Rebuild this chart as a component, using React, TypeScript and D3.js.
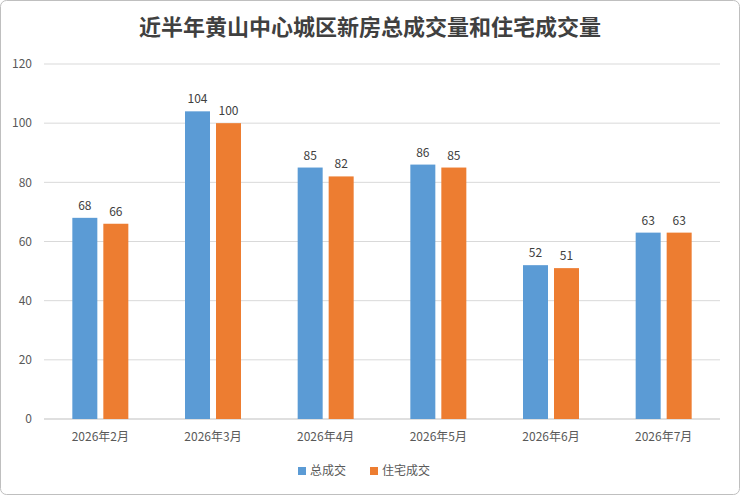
import { useEffect, useRef } from 'react';
import * as d3 from 'd3';

const categories = ['2026年2月', '2026年3月', '2026年4月', '2026年5月', '2026年6月', '2026年7月'];
const totalDeals = [68, 104, 85, 86, 52, 63];
const residentialDeals = [66, 100, 82, 85, 51, 63];
const seriesNames = ['总成交', '住宅成交'];
const colors = ['#5b9bd5', '#ed7d31'];
const yTicks = [0, 20, 40, 60, 80, 100, 120];

const W = 740;
const H = 495;

const App = () => {
  const ref = useRef<SVGSVGElement | null>(null);

  useEffect(() => {
    if (!ref.current) return;
    const svg = d3.select(ref.current);
    svg.selectAll('*').remove();
    const font = '"Noto Sans CJK SC", "Noto Sans", sans-serif';

    const margin = { top: 64, right: 20, bottom: 76, left: 44 };
    const innerW = W - margin.left - margin.right;
    const innerH = H - margin.top - margin.bottom;

    svg.append('rect')
      .attr('x', 0.5).attr('y', 0.5).attr('width', W - 1).attr('height', H - 1)
      .attr('rx', 6).attr('fill', '#fff').attr('stroke', '#bfbfbf');

    svg.append('text')
      .attr('x', W / 2).attr('y', 35)
      .attr('text-anchor', 'middle')
      .style('font-family', font).style('font-size', '22px').style('font-weight', 'bold')
      .attr('fill', '#404040')
      .text('近半年黄山中心城区新房总成交量和住宅成交量');

    const x = d3.scaleBand().domain(categories).range([0, innerW]);
    const y = d3.scaleLinear().domain([0, 120]).range([innerH, 0]);

    const g = svg.append('g').attr('transform', `translate(${margin.left},${margin.top})`);

    g.selectAll('line.grid').data(yTicks).enter().append('line')
      .attr('x1', 0).attr('x2', innerW)
      .attr('y1', d => y(d)).attr('y2', d => y(d))
      .attr('stroke', d => (d === 0 ? '#bfbfbf' : '#d9d9d9'));

    g.selectAll('text.ytick').data(yTicks).enter().append('text')
      .attr('x', -12).attr('y', d => y(d)).attr('dy', '0.35em')
      .attr('text-anchor', 'end')
      .style('font-family', font).style('font-size', '12px').attr('fill', '#595959')
      .text(d => d);

    const barW = 25;
    const gap = 6;
    [totalDeals, residentialDeals].forEach((vals, si) => {
      categories.forEach((c, i) => {
        const cx = (x(c) as number) + x.bandwidth() / 2;
        const bx = si === 0 ? cx - gap / 2 - barW : cx + gap / 2;
        g.append('rect')
          .attr('x', bx).attr('y', y(vals[i]))
          .attr('width', barW).attr('height', innerH - y(vals[i]))
          .attr('fill', colors[si]);
        g.append('text')
          .attr('x', bx + barW / 2).attr('y', y(vals[i]) - 8)
          .attr('text-anchor', 'middle')
          .style('font-family', font).style('font-size', '12px').attr('fill', '#404040')
          .text(vals[i]);
      });
    });

    g.selectAll('text.xtick').data(categories).enter().append('text')
      .attr('x', d => (x(d) as number) + x.bandwidth() / 2).attr('y', innerH + 22)
      .attr('text-anchor', 'middle')
      .style('font-family', font).style('font-size', '12px').attr('fill', '#595959')
      .text(d => d);

    const legend = svg.append('g').attr('transform', `translate(${W / 2 - 72},${H - 24})`);
    seriesNames.forEach((n, i) => {
      const lg = legend.append('g').attr('transform', `translate(${i * 72},0)`);
      lg.append('rect').attr('x', 0).attr('y', -4).attr('width', 8).attr('height', 8).attr('fill', colors[i]);
      lg.append('text').attr('x', 12).attr('y', 0).attr('dy', '0.35em')
        .style('font-family', font).style('font-size', '12px').attr('fill', '#595959')
        .text(n);
    });
  }, []);

  return <svg ref={ref} width={W} height={H} style={{ display: 'block', position: 'absolute', left: 0, top: 0 }} />;
};

export default App;
